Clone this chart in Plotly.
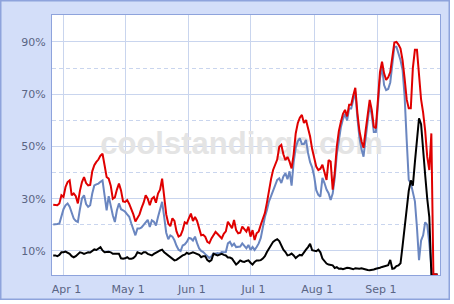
import pandas as pd
import plotly.graph_objects as go

start_date = "2009-03-27"

red_vals = [
    27.7, 27.7, 27.5, 28.2, 31.3,
    30.7, 34.5, 36.4, 37.0, 31.3, 32.0, 31.0, 28.2, 33.0, 36.4,
    38.3, 36.0, 35.1, 35.3, 40.5, 42.8, 44.1, 45.0, 46.5, 47.2,
    42.8, 38.3, 37.7, 35.0, 30.0, 30.5, 33.5, 35.8, 33.2, 29.0,
    28.8, 29.5, 28.0, 26.2, 24.0, 21.3, 22.5, 24.0, 26.5, 28.5,
    31.3, 30.0, 27.5, 30.0, 30.7, 28.5, 32.0, 33.5, 37.7, 31.0,
    24.0, 20.5, 19.5, 22.5, 21.5, 17.5, 15.5, 16.0, 18.0, 21.0,
    20.5, 22.5, 24.3, 21.5, 23.0, 21.5, 19.0, 16.0, 16.2, 15.4,
    13.5, 13.0, 14.8, 16.0, 17.3, 16.5, 15.5, 14.8, 16.6, 17.5,
    21.2, 20.0, 18.7, 21.9, 18.0, 16.8, 17.0, 19.3, 18.5, 17.4,
    19.3, 15.5, 18.0, 14.2, 16.8, 17.5, 20.0, 22.0, 24.5, 28.5,
    34.0, 37.5, 41.0, 43.0, 45.0, 49.9, 50.6, 47.0, 44.8, 46.0,
    44.2, 41.6, 47.0, 55.0, 58.9, 61.0, 62.1, 59.0, 60.1, 57.0,
    53.8, 49.0, 46.0, 42.3, 41.0, 41.5, 43.0, 40.0, 37.2, 44.8,
    44.2, 33.5, 40.0, 50.0, 56.0, 59.5, 62.5, 64.0, 61.5, 66.0,
    66.0, 69.5, 72.5, 63.0, 56.0, 52.0, 49.5, 56.0, 62.0, 67.8,
    64.0, 57.6, 57.0, 67.0, 78.5, 82.5, 78.0, 75.5, 76.5, 78.5,
    84.0, 89.8, 90.0, 89.0, 87.5, 83.0, 76.0, 68.0, 64.6, 64.6,
    80.0, 87.0, 87.0, 77.0, 68.0, 63.0, 56.0, 46.0, 41.0, 55.0,
    1.0, 1.0, 1.0,
]

blue_vals = [
    20.1, 20.1, 20.3, 20.5, 23.1,
    26.0, 27.5, 28.2, 27.0, 24.3, 22.4, 21.5, 21.1, 26.0, 30.1,
    31.3, 28.0, 26.9, 27.5, 32.0, 35.1, 35.5, 35.8, 36.5, 37.0,
    31.3, 25.6, 31.0, 27.0, 23.7, 21.1, 25.6, 28.2, 26.0, 25.6,
    25.0, 24.0, 23.1, 20.5, 18.0, 16.0, 18.6, 18.6, 19.0, 20.0,
    21.1, 21.9, 19.2, 21.7, 21.2, 19.8, 23.0, 26.0, 28.8, 23.1,
    17.0, 14.5, 16.0, 15.5, 14.1, 12.0, 10.5, 10.0, 12.1, 12.5,
    13.5, 15.0, 14.8, 14.0, 15.5, 13.0, 11.0, 10.0, 9.6, 8.8,
    8.0, 7.3, 8.0, 9.0, 9.0, 9.2, 9.0, 9.6, 9.5, 9.6,
    12.9, 13.5, 12.0, 12.8, 11.5, 11.5, 11.7, 12.9, 12.0, 11.0,
    12.3, 10.4, 11.5, 10.4, 11.5, 12.9, 15.0, 19.3, 23.0, 25.7,
    29.0, 31.0, 33.3, 35.5, 37.2, 37.8, 36.0, 38.5, 39.7, 37.5,
    40.5, 35.0, 44.0, 49.5, 52.0, 53.1, 51.0, 51.0, 52.5, 47.5,
    44.0, 42.0, 38.5, 33.3, 31.5, 30.8, 38.0, 36.0, 33.5, 32.1,
    29.5, 32.0, 38.0, 47.0, 53.0, 57.5, 60.5, 62.5, 60.0, 64.5,
    64.5, 68.0, 71.0, 61.0, 53.5, 49.0, 46.1, 53.0, 59.5, 66.0,
    62.0, 55.5, 55.5, 64.5, 76.0, 80.5, 73.5, 71.6, 72.0, 74.5,
    82.0, 88.2, 88.2, 86.0, 83.0, 79.3, 69.1, 52.5, 37.2, 36.0,
    33.0, 29.0, 19.0, 6.5, 14.0, 16.0, 21.0, 20.0, 13.0, 4.0,
    1.0, 1.0, 1.0,
]

black_vals = [
    8.3, 8.3, 8.0, 8.5, 9.5,
    9.5, 9.8, 9.5, 8.9, 8.0, 7.6, 8.0, 8.9, 9.5, 9.3,
    8.9, 9.2, 9.5, 9.4, 10.2, 10.6, 10.4, 11.0, 11.5, 10.2,
    9.5, 9.6, 9.7, 9.5, 8.9, 8.9, 9.0, 8.9, 7.2, 7.0,
    7.2, 7.6, 7.0, 7.0, 7.3, 8.0, 9.5, 9.2, 8.9, 9.5,
    9.5, 8.9, 8.5, 8.3, 8.9, 9.5, 9.8, 10.2, 10.5, 9.5,
    8.9, 8.3, 7.5, 7.0, 6.4, 6.6, 7.2, 8.0, 8.3, 8.6,
    9.3, 8.9, 9.2, 9.5, 9.2, 8.9, 8.5, 7.6, 8.0, 8.0,
    6.5, 6.0, 6.5, 8.9, 8.5, 8.3, 8.6, 8.9, 8.5, 8.3,
    7.5, 7.5, 7.1, 6.0, 4.8, 5.5, 6.4, 6.0, 5.8, 6.2,
    6.4, 5.5, 4.8, 5.8, 6.4, 6.4, 6.5, 7.1, 8.0, 9.6,
    11.0, 12.2, 13.5, 14.1, 14.5, 13.8, 12.2, 10.5, 9.6, 8.3,
    8.5, 9.0, 8.3, 7.3, 8.0, 8.5, 8.3, 9.6, 10.5, 11.5,
    12.8, 10.3, 10.0, 9.9, 10.5, 9.5, 7.1, 6.0, 5.2, 4.8,
    4.5, 4.5, 3.5, 3.8, 3.2, 3.3, 3.0, 3.4, 3.6, 3.5,
    3.2, 3.0, 3.4, 3.2, 3.2, 3.4, 3.1, 2.9, 2.7, 2.6,
    2.7, 2.9, 3.2, 3.3, 3.6, 3.9, 4.2, 4.3, 4.6, 6.6,
    3.2, 3.4, 4.2, 4.5, 5.3, 12.0, 19.0, 27.0, 33.0, 37.0,
    35.0, 44.0, 53.0, 60.8, 58.5, 47.0, 39.0, 30.0, 23.0, 1.0,
    1.0, 1.0, 1.0,
]

dates = pd.date_range(start_date, periods=len(red_vals), freq="D")

x_range = ["2009-03-26 10:00", "2009-10-01 05:00"]
y_range = [0.81, 100.33]
watermark = "coolstandings.com"

BG = "#d3def9"
BORDER = "#8ea3dc"
GRID = "#c9d5ee"
TICK = "#5a6584"

fig = go.Figure()
fig.add_trace(go.Scatter(
    x=["2009-06-26 15:00"], y=[50.0], mode="text", text=[watermark],
    textfont=dict(family="Liberation Sans, Arial, sans-serif",
                  size=31, color="#e4e4e4", weight="bold"),
    hoverinfo="skip", showlegend=False,
))
fig.add_trace(go.Scatter(x=dates, y=blue_vals, mode="lines",
                         line=dict(color="#6a86c0", width=2), showlegend=False))
fig.add_trace(go.Scatter(x=dates, y=black_vals, mode="lines",
                         line=dict(color="#000000", width=2), showlegend=False))
fig.add_trace(go.Scatter(x=dates, y=red_vals, mode="lines",
                         line=dict(color="#e00000", width=2), showlegend=False))

fig.update_layout(
    width=454, height=304,
    margin=dict(l=52, r=14, t=15, b=29),
    paper_bgcolor=BG, plot_bgcolor="#ffffff",
    font=dict(family="DejaVu Sans, Verdana, sans-serif", size=11, color=TICK),
    xaxis=dict(
        type="date", range=x_range, tick0="2009-04-01", dtick="M1",
        tickformat="%b %-d", showgrid=True, gridcolor=GRID, gridwidth=1,
        showline=True, mirror=True, linecolor=BORDER, linewidth=1,
        ticks="outside", ticklen=4, tickcolor="rgba(0,0,0,0)",
        ticklabelshift=3, automargin=False,
        zeroline=False, fixedrange=True,
    ),
    yaxis=dict(
        range=y_range, tick0=10, dtick=20, ticksuffix="%",
        showgrid=True, gridcolor=GRID, gridwidth=1,
        minor=dict(tick0=0, dtick=10, showgrid=True, gridcolor=GRID,
                   griddash="4px,3px", gridwidth=1),
        showline=True, mirror=True, linecolor=BORDER, linewidth=1,
        ticks="outside", ticklen=3, tickcolor="rgba(0,0,0,0)",
        automargin=False,
        zeroline=False, fixedrange=True,
    ),
    shapes=[
        dict(type="rect", xref="paper", yref="paper",
             x0=(450 - 52) / 388, x1=(460 - 52) / 388, y0=-0.2, y1=1.2,
             fillcolor="#ffffff", line=dict(width=0), layer="above"),
        dict(type="rect", xref="paper", yref="paper",
             x0=-0.2, x1=1.2, y0=(275 - 300) / 260, y1=(275 - 310) / 260,
             fillcolor="#ffffff", line=dict(width=0), layer="above"),
        dict(type="rect", xref="paper", yref="paper",
             x0=(0.75 - 52) / 388, x1=(449.25 - 52) / 388,
             y0=(275 - 299.25) / 260, y1=(275 - 0.75) / 260,
             line=dict(color=BORDER, width=1.5), layer="above"),
    ],
)

fig.write_html("out.html")
